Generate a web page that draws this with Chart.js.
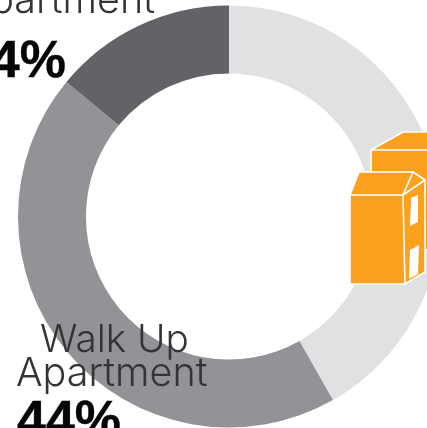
<!DOCTYPE html>
<html lang="en">
<head>
    <meta charset="UTF-8">
    <title>Housing Types</title>
    <script src="https://cdn.jsdelivr.net/npm/chart.js"></script>
</head>
<style>
    html, body { margin: 0; padding: 0; background: #fff; overflow: hidden; }
    #wrap { position: relative; width: 427px; height: 428px; overflow: hidden; }
    #housingChart { position: absolute; left: 0; top: 0; }
    .label {
        position: absolute;
        font-family: Inter, sans-serif;
        font-weight: 300;
        color: #343436;
        white-space: nowrap;
        line-height: 1;
    }
    .pct {
        position: absolute;
        font-family: "Liberation Sans", sans-serif;
        font-weight: 700;
        color: #060606;
        -webkit-text-stroke: 0.4px #060606;
        white-space: nowrap;
        line-height: 1;
    }
    #building { position: absolute; left: 345px; top: 128px; }
</style>
<body>
<div id="wrap">
    <canvas id="housingChart" width="427" height="428"></canvas>
    <div class="label" style="right:272px;top:-20px;font-size:39.5px">Apartment</div>
    <div class="pct" style="right:361px;top:33px;font-size:52px">14%</div>
    <div class="label" style="left:40px;top:319px;font-size:38.7px">Walk Up</div>
    <div class="label" style="left:16px;top:353px;font-size:39.5px">Apartment</div>
    <div class="pct" style="left:17px;top:393px;font-size:52px">44%</div>

    <svg id="building" width="82" height="160" viewBox="345 128 82 160">
        <g stroke="#fff" stroke-width="1.6" stroke-linejoin="round" fill="#fba11e">
            <path d="M371 150 L403 132 L430 132 L430 250 L371 250 Z"/>
            <path d="M371 150 L430 150" fill="none"/>
            <path d="M350 195 L359 172 L413 172 L425 180 L425 272 L405 284 L350 284 Z"/>
            <path d="M350 195 L403 195 L425 180" fill="none"/>
            <path d="M403 195 L413 172" fill="none"/>
            <path d="M403 195 L405 284" fill="none"/>
        </g>
        <path d="M411 198 L418 195 L418 222 L410 226 Z" fill="#fff"/>
        <path d="M410 250 L419 245 L418 274 L409 279 Z" fill="#fff"/>
    </svg>
</div>

<script>
    const categories = ['High Rise Apartment', 'Walk Up Apartment', 'Apartment'];
    const shares = [41.8, 44.2, 14];
    const colors = ['#e0e1e3', '#929396', '#626366'];

    new Chart(document.getElementById('housingChart').getContext('2d'), {
        type: 'doughnut',
        data: {
            labels: categories,
            datasets: [{
                data: shares,
                backgroundColor: colors,
                borderWidth: 0
            }]
        },
        options: {
            responsive: false,
            animation: false,
            radius: 211,
            cutout: '67.8%',
            layout: { padding: { left: 31, top: 5 } },
            plugins: {
                legend: { display: false },
                tooltip: { enabled: false }
            }
        }
    });
</script>
</body>
</html>
